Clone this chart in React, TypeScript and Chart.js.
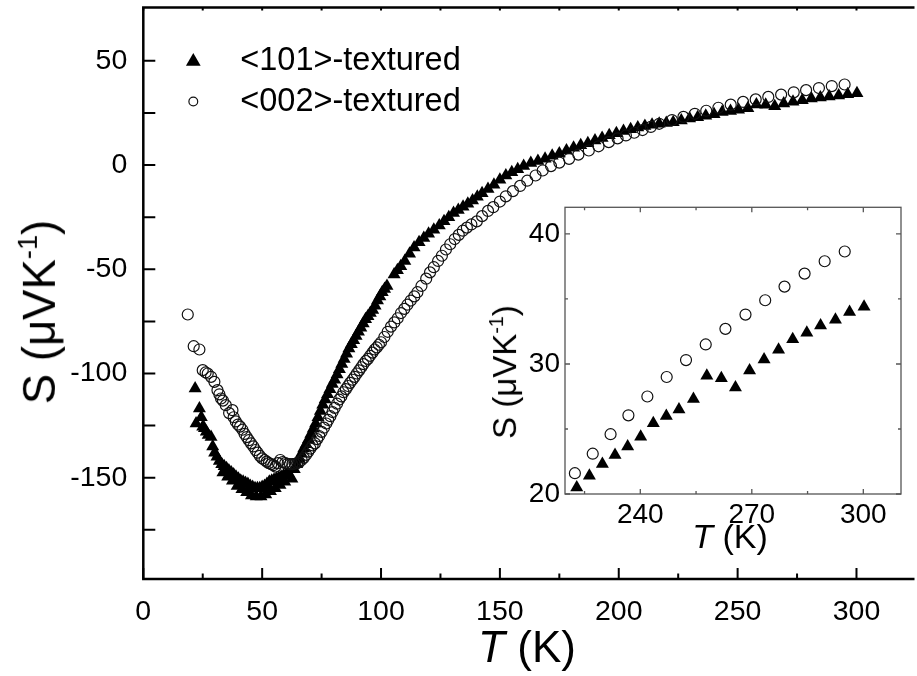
import React, { useEffect, useRef } from 'react';
import { Chart, registerables } from 'chart.js';
Chart.register(...registerables);

const FONT = "'Liberation Sans', Arial, Helvetica, sans-serif";

// ---------- main panel data ----------
const LEGEND_LABELS = ['<101>-textured', '<002>-textured'];

// <101>-textured (triangles), T <= 220 K
const T101_MAIN = [21.8, 22.2, 23.6, 24.4, 25.0, 25.7, 26.5, 27.3, 28.5, 29.2, 30.0, 31.0, 32.0, 33.0, 34.0, 35.0, 36.0, 37.0, 38.0, 39.0, 40.0, 41.0, 42.0, 43.0, 44.0, 45.0, 46.0, 47.0, 48.0, 49.0, 50.0, 51.0, 52.0, 53.0, 54.0, 55.0, 56.0, 57.0, 58.0, 59.0, 60.0, 61.0, 62.5, 63.5, 64.5, 65.5, 66.5, 67.5, 68.5, 69.5, 70.5, 71.5, 72.5, 73.5, 74.5, 75.5, 76.5, 77.5, 78.5, 79.5, 80.5, 81.5, 82.5, 83.5, 84.5, 85.5, 86.5, 87.5, 88.5, 89.5, 90.5, 91.5, 92.5, 93.5, 94.5, 95.5, 96.5, 97.5, 98.5, 99.5, 100.5, 101.5, 102.5, 105.5, 106.9, 108.3, 110.0, 112.0, 113.9, 116.0, 118.0, 120.0, 122.2, 124.5, 126.5, 128.5, 130.5, 132.5, 134.5, 136.5, 138.5, 140.5, 142.5, 145.0, 147.5, 150.0, 152.5, 155.0, 157.5, 160.0, 163.0, 166.0, 169.0, 172.0, 175.0, 178.0, 181.0, 184.0, 187.0, 190.0, 193.0, 196.0, 199.0, 202.0, 205.0, 208.0, 211.0, 214.0, 217.0, 220.0];
const S101_MAIN = [-107.2, -124, -116.8, -121, -125.6, -126.3, -128, -129.5, -130.5, -135, -138, -140, -142, -143.5, -144.5, -145.5, -146.5, -147.5, -148.5, -149.5, -150.5, -151.5, -152, -152.5, -153, -154, -154.5, -155, -155, -155, -154.5, -154, -153, -152, -151.5, -151, -150.5, -150, -149.5, -149, -148.5, -148, -150.5, -146, -143.5, -141, -138.5, -136, -134, -131.5, -129, -126.5, -124, -121, -118, -115, -112.5, -110, -107.5, -105, -103, -100.5, -98, -95.5, -93, -90.5, -88, -86, -84, -82, -80, -78, -76, -74, -72.5, -71, -69.5, -67.5, -65, -63, -61, -59.5, -58, -52.5, -50.5, -48.5, -46, -42.5, -39.5, -37, -35, -33, -31, -29, -27, -25, -23, -21.5, -20, -18.5, -17, -15.2, -13.5, -11.5, -9.5, -7, -5, -3.5, -2, -0.5, 1, 2, 3, 4.5, 5.5, 7, 8.3, 9.5, 10.5, 11.8, 13, 14.3, 15.3, 16.3, 17.2, 18, 18.7, 19.3, 19.8, 20.2];
// second (lower) sweep of <101> near the minimum
const T101_LOW = [33.5, 35.5, 37.5, 39.5, 41.5, 43.5, 45.5, 47.5, 49.5, 51.5, 53.5, 55.5, 57.5, 59.5];
const S101_LOW = [-147.5, -149.5, -151.5, -154, -155.5, -157, -158.5, -159, -159, -158, -156.5, -155, -153.5, -152];

// <002>-textured (circles), T <= 217 K
const T002_MAIN = [18.7, 21.2, 23.6, 25.0, 26.2, 27.1, 28.5, 29.9, 31.2, 32.0, 32.7, 33.5, 34.7, 36.1, 37.5, 38.0, 38.9, 39.8, 40.7, 41.7, 42.6, 43.5, 44.4, 45.3, 46.3, 47.2, 48.1, 49.0, 50.0, 51.0, 51.9, 52.8, 53.8, 54.7, 55.6, 56.6, 57.6, 58.6, 59.7, 60.7, 61.7, 62.7, 63.7, 64.7, 65.6, 66.6, 67.5, 68.5, 69.4, 70.3, 71.2, 72.2, 73.1, 74.0, 75.0, 76.0, 77.0, 77.8, 78.7, 79.6, 80.5, 81.5, 82.4, 83.3, 84.2, 85.2, 86.1, 87.0, 88.0, 88.9, 89.8, 90.8, 91.7, 92.6, 93.6, 94.5, 95.4, 96.4, 97.3, 98.2, 99.1, 100.0, 101.4, 102.8, 104.2, 105.6, 107.0, 108.4, 109.8, 111.1, 112.5, 114.0, 115.3, 117.0, 119.0, 120.6, 122.2, 124.0, 125.6, 127.3, 129.1, 131.0, 132.7, 134.4, 136.1, 138.0, 140.3, 142.5, 145.0, 147.2, 150.0, 152.5, 155.5, 158.5, 161.5, 165.0, 168.0, 171.5, 175.0, 179.1, 183.0, 187.4, 191.5, 195.8, 199.5, 203.0, 206.5, 210.0, 213.5, 217.0];
const S002_MAIN = [-71.7, -86.9, -88.5, -98.4, -99.5, -100, -101.6, -104, -108, -110, -112, -113, -115.2, -119, -117.6, -121, -123, -124.5, -125.5, -127, -129, -130.5, -132, -133.5, -135, -136.7, -138, -139.5, -140.7, -141.5, -142.3, -143, -143.5, -144, -144.7, -143, -141.5, -142.5, -143, -143.3, -143.5, -143.5, -143.3, -143, -142.5, -141.5, -140.5, -139, -137.5, -136, -134.5, -133.5, -131.5, -130, -128, -126, -124, -122.3, -120.5, -118.5, -116.5, -114.5, -112.5, -111, -109, -107.5, -106, -104.5, -103, -101.6, -100, -98.5, -97, -95.5, -94, -93, -91.5, -90, -88.5, -87.5, -86.2, -85, -82.5, -80, -77.5, -75.5, -73.5, -71, -69, -67, -65, -63, -61, -58, -54.5, -51.5, -49, -46, -43.5, -40.5, -38, -35.5, -33.5, -31.5, -30, -28.5, -27, -24.5, -22, -20.2, -17.5, -15, -12.5, -10, -7.5, -5, -2.6, -0.5, 1.2, 3, 5, 7, 9, 11, 12.8, 14.2, 15.5, 16.8, 18.3, 19.8];

// ---------- inset data (220-300 K) ----------
const INSET_T101 = [222.9, 226.3, 229.8, 233.2, 236.6, 240.1, 243.5, 247.0, 250.4, 254.3, 257.9, 261.8, 265.6, 269.4, 273.3, 277.2, 281.0, 284.8, 288.5, 292.5, 296.3, 300.2];
const INSET_S101 = [20.5, 21.4, 22.3, 23.0, 23.65, 24.4, 25.45, 26.0, 26.5, 27.3, 29.1, 28.9, 28.2, 29.5, 30.35, 31.1, 31.9, 32.4, 32.95, 33.4, 34.0, 34.4];
const INSET_T002 = [222.4, 227.2, 232.0, 236.8, 241.9, 247.1, 252.3, 257.6, 262.9, 268.3, 273.6, 278.8, 284.2, 289.6, 295.0];
const INSET_S002 = [21.6, 23.1, 24.6, 26.05, 27.5, 29.0, 30.3, 31.5, 32.7, 33.8, 34.9, 35.95, 36.95, 37.9, 38.65];

// ---------- axes ----------
const MAIN_X_TICKS = [0, 25, 50, 75, 100, 125, 150, 175, 200, 225, 250, 275, 300];
const MAIN_X_LABELS = [0, 50, 100, 150, 200, 250, 300];
const MAIN_Y_TICKS = [-175, -150, -125, -100, -75, -50, -25, 0, 25, 50];
const MAIN_Y_LABELS = [-150, -100, -50, 0, 50];
const INSET_X_TICKS = [225, 240, 255, 270, 285, 300];
const INSET_X_LABELS = [240, 270, 300];
const INSET_Y_TICKS = [20, 25, 30, 35, 40];
const INSET_Y_LABELS = [20, 30, 40];

const pts = (xs: number[], ys: number[]) => xs.map((x, i) => ({ x, y: ys[i] }));

function triPath(ctx: CanvasRenderingContext2D, x: number, y: number, r: number) {
  ctx.beginPath();
  ctx.moveTo(x, y - r);
  ctx.lineTo(x + r * 0.866, y + r / 2);
  ctx.lineTo(x - r * 0.866, y + r / 2);
  ctx.closePath();
}

const mainAxes = {
  id: 'mainAxes',
  afterDraw(chart: any) {
    const { ctx, chartArea: a, scales } = chart;
    const x = scales.x, y = scales.y;
    ctx.save();
    ctx.strokeStyle = '#000';
    ctx.lineWidth = 2.5;
    ctx.beginPath();
    ctx.moveTo(a.right + 5, a.top);
    ctx.lineTo(a.left, a.top);
    ctx.lineTo(a.left, a.bottom);
    ctx.lineTo(a.right + 5, a.bottom);
    ctx.stroke();
    ctx.lineWidth = 2;
    ctx.beginPath();
    for (const t of MAIN_X_TICKS) {
      const px = x.getPixelForValue(t);
      const len = MAIN_X_LABELS.includes(t) ? 11 : 5.5;
      ctx.moveTo(px, a.bottom);
      ctx.lineTo(px, a.bottom - len);
      ctx.moveTo(px, a.top);
      ctx.lineTo(px, a.top + 3);
    }
    for (const v of MAIN_Y_TICKS) {
      const py = y.getPixelForValue(v);
      ctx.moveTo(a.left, py);
      ctx.lineTo(a.left + 12, py);
    }
    ctx.stroke();
    // legend
    const lx = a.left + 50;
    ctx.fillStyle = '#000';
    triPath(ctx, lx, a.top + 54, 8.5);
    ctx.fill();
    ctx.beginPath();
    ctx.arc(lx, a.top + 94, 4.4, 0, Math.PI * 2);
    ctx.lineWidth = 1.2;
    ctx.strokeStyle = '#111';
    ctx.stroke();
    ctx.font = `32.5px ${FONT}`;
    ctx.textBaseline = 'middle';
    ctx.textAlign = 'left';
    ctx.fillText(LEGEND_LABELS[0], a.left + 97, a.top + 54);
    ctx.fillText(LEGEND_LABELS[1], a.left + 97, a.top + 95);
    ctx.restore();
  },
};

const insetAxes = {
  id: 'insetAxes',
  beforeDraw(chart: any) {
    const { ctx, chartArea: a } = chart;
    ctx.save();
    ctx.fillStyle = '#fff';
    ctx.fillRect(a.left, a.top, a.right - a.left, a.bottom - a.top);
    ctx.restore();
  },
  afterDraw(chart: any) {
    const { ctx, chartArea: a, scales } = chart;
    const x = scales.x, y = scales.y;
    ctx.save();
    ctx.strokeStyle = '#555';
    ctx.lineWidth = 1.3;
    ctx.strokeRect(a.left, a.top, a.right - a.left, a.bottom - a.top);
    ctx.beginPath();
    for (const t of INSET_X_TICKS) {
      const px = x.getPixelForValue(t);
      const len = INSET_X_LABELS.includes(t) ? 5 : 3;
      ctx.moveTo(px, a.bottom);
      ctx.lineTo(px, a.bottom - len);
      ctx.moveTo(px, a.top);
      ctx.lineTo(px, a.top + len);
    }
    for (const v of INSET_Y_TICKS) {
      const py = y.getPixelForValue(v);
      const len = INSET_Y_LABELS.includes(v) ? 5 : 3;
      ctx.moveTo(a.left, py);
      ctx.lineTo(a.left + len, py);
      ctx.moveTo(a.right, py);
      ctx.lineTo(a.right - len, py);
    }
    ctx.stroke();
    ctx.restore();
  },
};

function scaleOpts(min: number, max: number, ticks: number[], labels: number[], padding: number, size: number, fit: (s: any) => void) {
  return {
    type: 'linear' as const,
    min,
    max,
    grid: { display: false, drawTicks: false },
    border: { display: false },
    afterBuildTicks: (s: any) => {
      s.ticks = ticks.map((v) => ({ value: v }));
    },
    afterFit: (s: any) => {
      fit(s);
      s.paddingTop = 0;
      s.paddingBottom = 0;
      s.paddingLeft = 0;
      s.paddingRight = 0;
    },
    ticks: {
      autoSkip: false,
      maxRotation: 0,
      padding,
      color: '#000',
      font: { family: FONT, size },
      callback: (v: any) => (labels.includes(Number(v)) ? String(v) : ''),
    },
  };
}

export default function App() {
  const mainRef = useRef<HTMLCanvasElement>(null);
  const insetRef = useRef<HTMLCanvasElement>(null);

  useEffect(() => {
    const main = new Chart(mainRef.current as HTMLCanvasElement, {
      type: 'scatter',
      data: {
        datasets: [
          {
            label: LEGEND_LABELS[1],
            data: [...pts(T002_MAIN, S002_MAIN), ...pts(INSET_T002, INSET_S002)],
            pointStyle: 'circle',
            pointRadius: 5.5,
            backgroundColor: 'rgba(0,0,0,0)',
            borderColor: '#111',
            borderWidth: 1.2,
          },
          {
            label: LEGEND_LABELS[0],
            data: [...pts(T101_MAIN, S101_MAIN), ...pts(T101_LOW, S101_LOW), ...pts(INSET_T101, INSET_S101)],
            pointStyle: 'triangle',
            pointRadius: 7.5,
            backgroundColor: '#000',
            borderColor: '#000',
            borderWidth: 0,
          },
        ],
      },
      options: {
        responsive: false,
        animation: false,
        events: [],
        layout: { padding: { top: 6.5, right: 0, left: 0, bottom: 0 } },
        plugins: { legend: { display: false }, tooltip: { enabled: false } },
        scales: {
          x: scaleOpts(0, 322.3, MAIN_X_TICKS, MAIN_X_LABELS, 16, 28.5, (s: any) => { s.height = 97; }),
          y: scaleOpts(-198.6, 75.6, MAIN_Y_TICKS, MAIN_Y_LABELS, 16, 28.5, (s: any) => { s.width = 143.3; }),
        },
      } as any,
      plugins: [mainAxes],
    });

    const inset = new Chart(insetRef.current as HTMLCanvasElement, {
      type: 'scatter',
      data: {
        datasets: [
          {
            label: LEGEND_LABELS[1],
            data: pts(INSET_T002, INSET_S002),
            pointStyle: 'circle',
            pointRadius: 5.5,
            backgroundColor: 'rgba(0,0,0,0)',
            borderColor: '#111',
            borderWidth: 1.2,
          },
          {
            label: LEGEND_LABELS[0],
            data: pts(INSET_T101, INSET_S101),
            pointStyle: 'triangle',
            pointRadius: 7.5,
            backgroundColor: '#000',
            borderColor: '#000',
            borderWidth: 0,
          },
        ],
      },
      options: {
        responsive: false,
        animation: false,
        events: [],
        layout: { padding: { top: 17.3, right: 9, left: 0, bottom: 0 } },
        plugins: { legend: { display: false }, tooltip: { enabled: false } },
        scales: {
          x: scaleOpts(219.74, 310.14, INSET_X_TICKS, INSET_X_LABELS, 4.5, 28, (s: any) => { s.height = 56; }),
          y: scaleOpts(20, 42.05, INSET_Y_TICKS, INSET_Y_LABELS, 5, 28, (s: any) => { s.width = 85; }),
        },
      } as any,
      plugins: [insetAxes],
    });

    return () => {
      main.destroy();
      inset.destroy();
    };
  }, []);

  const titleBase: React.CSSProperties = {
    position: 'absolute',
    fontFamily: FONT,
    color: '#000',
    whiteSpace: 'nowrap',
    lineHeight: 1,
  };
  const sup: React.CSSProperties = { fontSize: '0.6em', verticalAlign: '0.65em' };

  return (
    <div style={{ position: 'absolute', left: 0, top: 0, width: 917, height: 676, background: '#fff', overflow: 'hidden' }}>
      <canvas ref={mainRef} width={917} height={676} style={{ position: 'absolute', left: 0, top: 0 }} />
      <canvas ref={insetRef} width={430} height={360} style={{ position: 'absolute', left: 480, top: 190 }} />
      <div style={{ ...titleBase, fontSize: 44, left: 527, top: 625, transform: 'translateX(-50%)' }}>
        <i>T</i> (K)
      </div>
      <div style={{ ...titleBase, fontSize: 45.5, left: 38, top: 312, transform: 'translate(-50%, -50%) rotate(-90deg)' }}>
        S (μVK<span style={sup}>-1</span>)
      </div>
      <div style={{ ...titleBase, fontSize: 34, left: 730, top: 519, transform: 'translateX(-50%)' }}>
        <i>T</i> (K)
      </div>
      <div style={{ ...titleBase, fontSize: 33, left: 504, top: 372, transform: 'translate(-50%, -50%) rotate(-90deg)' }}>
        S (μVK<span style={sup}>-1</span>)
      </div>
    </div>
  );
}
